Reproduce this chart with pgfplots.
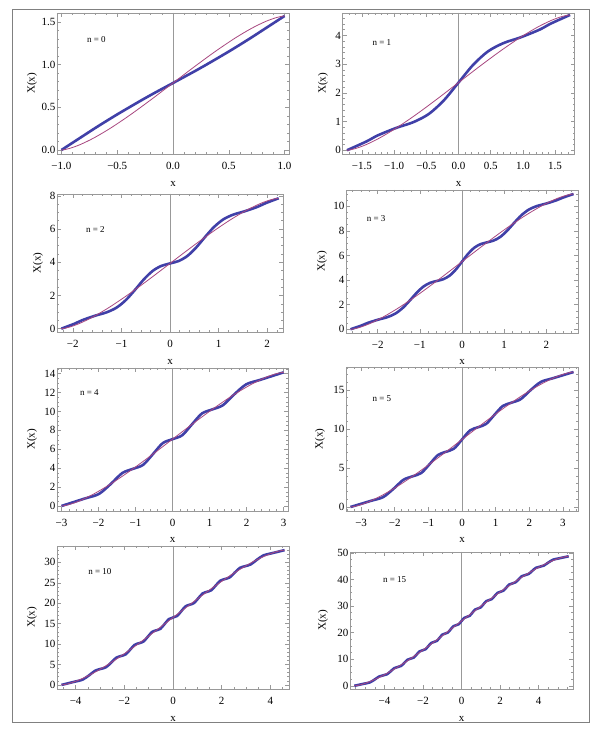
\documentclass[border=0pt]{standalone}
\usepackage{fontspec}
\setmainfont{Liberation Serif}
\usepackage{pgfplots}
\pgfplotsset{compat=1.18}

\definecolor{thickc}{rgb}{0.25,0.25,0.66}
\definecolor{thinc}{rgb}{0.66,0.28,0.50}
\definecolor{framegray}{gray}{0.6}
\definecolor{zerogray}{gray}{0.6}

\pgfplotsset{
  panel/.style={
    scale only axis,
    anchor=south west,
    axis line style={framegray, line width=0.6pt},
    tick align=inside,
    tick pos=both,
    major tick length=4pt,
    minor tick length=2pt,
    tick style={framegray, line width=0.5pt},
    tick label style={font=\fontsize{11}{13}\selectfont, text=black},
    xticklabel style={yshift=-5pt},
    yticklabel style={xshift=2pt},
    /pgf/number format/assume math mode=true,
  },
  thickline/.style={color=thickc, line width=2.6pt, smooth, no markers},
  thinline/.style={color=thinc, line width=0.8pt, smooth, no markers},
}
\tikzset{lab/.style={font=\fontsize{11}{13}\selectfont},
  nlabel/.style={font=\fontsize{9}{11}\selectfont}}
\newcommand{\zeroline}{\draw[zerogray, line width=0.6pt] ({axis cs:0,0}|-{rel axis cs:0,0}) -- ({axis cs:0,0}|-{rel axis cs:0,1});}

\begin{document}
\begin{tikzpicture}
\path[use as bounding box] (0pt,0pt) rectangle (602pt,736pt);
\fill[white] (0pt,0pt) rectangle (602pt,736pt);
\draw[black!50, line width=1pt] (12pt,13pt) rectangle (589pt,726pt);

% n = 0
\begin{axis}[panel, name=p1, at={(57pt,582pt)}, width=232pt, height=141pt,
  xmin=-1.04, xmax=1.04, ymin=-0.047, ymax=1.606,
  xtick={-1,-0.5,0,0.5,1}, xticklabels={−1.0,−0.5,0.0,0.5,1.0},
  ytick={0,0.5,1,1.5}, yticklabels={0.0,0.5,1.0,1.5},
  minor xtick={-1,-0.9,...,1}, minor ytick={0,0.1,...,1.6}]
\zeroline
\addplot[thickline] coordinates {
(-1,0) (-0.9,0.085) (-0.8,0.170) (-0.7,0.255) (-0.6,0.337) (-0.5,0.417) (-0.4,0.494)
(-0.3,0.570) (-0.2,0.644) (-0.1,0.715) (0,0.785) (0.1,0.856) (0.2,0.927) (0.3,1.001)
(0.4,1.077) (0.5,1.154) (0.6,1.234) (0.7,1.316) (0.8,1.401) (0.9,1.486) (1,1.571)};
\addplot[thinline] coordinates {
(-1,0) (-0.98079,0.0025) (-0.92388,0.0196) (-0.83147,0.0636) (-0.70711,0.1427)
(-0.55557,0.2599) (-0.38268,0.4123) (-0.19509,0.5916) (0,0.7854) (0.19509,0.9792)
(0.38268,1.1585) (0.55557,1.3109) (0.70711,1.4281) (0.83147,1.5072) (0.92388,1.5512)
(0.98079,1.5683) (1,1.5708)};
\node[nlabel] at (rel axis cs:0.17,0.81) {n = 0};
\end{axis}

% n = 1
\begin{axis}[panel, name=p2, at={(342.5pt,582pt)}, width=232pt, height=141pt,
  xmin=-1.80133, xmax=1.80133, ymin=-0.13, ymax=4.78,
  xtick={-1.5,-1,-0.5,0,0.5,1,1.5}, xticklabels={−1.5,−1.0,−0.5,0.0,0.5,1.0,1.5},
  ytick={0,1,2,3,4},
  minor xtick={-1.8,-1.7,...,1.8}, minor ytick={0,0.2,...,4.6}]
\zeroline
\addplot[thickline] coordinates {
(-1.7321,0) (-1.4344,0.3006) (-1.2543,0.5171) (-0.9586,0.7854) (-0.6998,0.9795)
(-0.4589,1.2674) (-0.2274,1.7381) (0,2.3562) (0.2274,2.9743) (0.4589,3.4450)
(0.6998,3.7329) (0.9586,3.9270) (1.2543,4.1953) (1.4344,4.4118) (1.7321,4.7124)};
\addplot[thinline] coordinates {
(-1.7321,0) (-1.6988,0.0075) (-1.6002,0.0587) (-1.4401,0.1907) (-1.2247,0.4281)
(-0.9623,0.7797) (-0.6628,1.2368) (-0.3379,1.7747) (0,2.3562) (0.3379,2.9377)
(0.6628,3.4756) (0.9623,3.9327) (1.2247,4.2843) (1.4401,4.5217) (1.6002,4.6537)
(1.6988,4.7049) (1.7321,4.7124)};
\node[nlabel] at (rel axis cs:0.17,0.79) {n = 1};
\end{axis}

% n = 2
\begin{axis}[panel, name=p3, at={(57pt,404pt)}, width=226pt, height=138pt,
  xmin=-2.32551, xmax=2.32551, ymin=-0.2, ymax=8.11,
  xtick={-2,-1,0,1,2}, xticklabels={−2,−1,0,1,2},
  ytick={0,2,4,6,8},
  minor xtick={-2.2,-2,...,2.2}, minor ytick={0,0.5,...,8}]
\zeroline
\addplot[thickline] coordinates {
(-2.2361,0) (-1.9641,0.3006) (-1.8014,0.5171) (-1.5367,0.7854) (-1.3086,0.9795)
(-1.1000,1.2674) (-0.9034,1.7381) (-0.7149,2.3562) (-0.5321,2.9882) (-0.3528,3.4867)
(-0.1758,3.7821) (0,3.9270) (0.1758,4.0719) (0.3528,4.3673) (0.5321,4.8658)
(0.7149,5.4978) (0.9034,6.1159) (1.1000,6.5866) (1.3086,6.8745) (1.5367,7.0686)
(1.8014,7.3369) (1.9641,7.5534) (2.2361,7.8540)};
\addplot[thinline] coordinates {
(-2.2361,0) (-2.1931,0.0125) (-2.0659,0.0979) (-1.8592,0.3178) (-1.5811,0.7135)
(-1.2423,1.2995) (-0.8557,2.0614) (-0.4362,2.9578) (0,3.9270) (0.4362,4.8962)
(0.8557,5.7926) (1.2423,6.5545) (1.5811,7.1405) (1.8592,7.5362) (2.0659,7.7561)
(2.1931,7.8415) (2.2361,7.8540)};
\node[nlabel] at (rel axis cs:0.17,0.74) {n = 2};
\end{axis}

% n = 3
\begin{axis}[panel, name=p4, at={(346pt,403pt)}, width=232pt, height=143pt,
  xmin=-2.75158, xmax=2.75158, ymin=-0.30, ymax=11.32,
  xtick={-2,-1,0,1,2}, xticklabels={−2,−1,0,1,2},
  ytick={0,2,4,6,8,10},
  minor xtick={-2.6,-2.4,...,2.6}, minor ytick={0,0.5,...,11}]
\zeroline
\addplot[thickline] coordinates {
(-2.6458,0) (-2.3895,0.3006) (-2.2366,0.5171) (-1.9894,0.7854) (-1.7778,0.9795)
(-1.5855,1.2674) (-1.4053,1.7381) (-1.2340,2.3562) (-1.0689,2.9882) (-0.9090,3.4867)
(-0.7526,3.7821) (-0.5990,3.9270) (-0.4474,4.0662) (-0.2975,4.3508) (-0.1485,4.8475)
(0,5.4978) (0.1485,6.1481) (0.2975,6.6448) (0.4474,6.9294) (0.5990,7.0686)
(0.7526,7.2135) (0.9090,7.5089) (1.0689,8.0074) (1.2340,8.6394) (1.4053,9.2575)
(1.5855,9.7282) (1.7778,10.0160) (1.9894,10.2102) (2.2366,10.4784) (2.3895,10.6950)
(2.6458,10.9956)};
\addplot[thinline] coordinates {
(-2.6458,0) (-2.5949,0.0175) (-2.4444,0.1370) (-2.1999,0.4449) (-1.8708,0.9989)
(-1.4699,1.8193) (-1.0125,2.8859) (-0.5162,4.1409) (0,5.4978) (0.5162,6.8547)
(1.0125,8.1097) (1.4699,9.1762) (1.8708,9.9967) (2.1999,10.5507) (2.4444,10.8586)
(2.5949,10.9780) (2.6458,10.9956)};
\node[nlabel] at (rel axis cs:0.13,0.80) {n = 3};
\end{axis}

% n = 4
\begin{axis}[panel, name=p5, at={(57pt,225pt)}, width=231pt, height=143pt,
  xmin=-3.12, xmax=3.12, ymin=-0.53, ymax=14.6,
  xtick={-3,-2,-1,0,1,2,3}, xticklabels={−3,−2,−1,0,1,2,3},
  ytick={0,2,4,6,8,10,12,14},
  minor xtick={-3,-2.8,...,3}, minor ytick={0,0.5,...,14.5}]
\zeroline
\addplot[thickline] coordinates {
(-3,0) (-2.3731,0.7854) (-1.9904,1.2674) (-1.6603,2.3562) (-1.3568,3.4867)
(-1.0705,3.9270) (-0.7948,4.3508) (-0.5264,5.4978) (-0.2622,6.6537) (0,7.0686)
(0.2622,7.4835) (0.5264,8.6394) (0.7948,9.7864) (1.0705,10.2102) (1.3568,10.6505)
(1.6603,11.7810) (1.9904,12.8698) (2.3731,13.3518) (3,14.1372)};
\addplot[thinline] coordinates {
(-3,0) (-2.9424,0.0225) (-2.7716,0.1762) (-2.4944,0.5720) (-2.1213,1.2843)
(-1.6667,2.3391) (-1.1480,3.7104) (-0.5853,5.3240) (0,7.0686) (0.5853,8.8132)
(1.1480,10.4267) (1.6667,11.7980) (2.1213,12.8529) (2.4944,13.5652) (2.7716,13.9610)
(2.9424,14.1146) (3,14.1372)};
\node[nlabel] at (rel axis cs:0.14,0.83) {n = 4};
\end{axis}

% n = 5
\begin{axis}[panel, name=p6, at={(346pt,225pt)}, width=232pt, height=144pt,
  xmin=-3.44928, xmax=3.44928, ymin=-0.51, ymax=17.92,
  xtick={-3,-2,-1,0,1,2,3}, xticklabels={−3,−2,−1,0,1,2,3},
  ytick={0,5,10,15},
  minor xtick={-3.4,-3.2,...,3.4}, minor ytick={0,1,...,17}]
\zeroline
\addplot[thickline] coordinates {
(-3.3166,0) (-2.7123,0.7854) (-2.3453,1.2674) (-2.0298,2.3562) (-1.7418,3.4867)
(-1.4709,3.9270) (-1.2116,4.3508) (-0.9611,5.4978) (-0.7161,6.6537) (-0.4754,7.0686)
(-0.2370,7.4779) (0,8.6394) (0.2370,9.8008) (0.4754,10.2102) (0.7161,10.6251)
(0.9611,11.7810) (1.2116,12.9280) (1.4709,13.3518) (1.7418,13.7921) (2.0298,14.9226)
(2.3453,16.0114) (2.7123,16.4934) (3.3166,17.2788)};
\addplot[thinline] coordinates {
(-3.3166,0) (-3.2529,0.0276) (-3.0642,0.2153) (-2.7577,0.6991) (-2.3452,1.5697)
(-1.8426,2.8590) (-1.2692,4.5350) (-0.6470,6.5071) (0,8.6394) (0.6470,10.7717)
(1.2692,12.7438) (1.8426,14.4198) (2.3452,15.7091) (2.7577,16.5797) (3.0642,17.0635)
(3.2529,17.2512) (3.3166,17.2788)};
\node[nlabel] at (rel axis cs:0.155,0.78) {n = 5};
\end{axis}

% n = 10
\begin{axis}[panel, name=p7, at={(57pt,47pt)}, width=232pt, height=143pt,
  xmin=-4.76588, xmax=4.76588, ymin=-1.0, ymax=34.0,
  xtick={-4,-2,0,2,4}, xticklabels={−4,−2,0,2,4},
  ytick={0,5,10,15,20,25,30},
  minor xtick={-4.5,-4,...,4.5}, minor ytick={0,1,...,33}]
\zeroline
\addplot[thickline] coordinates {
(-4.5826,0) (-4.0440,0.7854) (-3.7210,1.2674) (-3.4458,2.3562) (-3.1960,3.4867)
(-2.9652,3.9270) (-2.7461,4.3508) (-2.5362,5.4978) (-2.3338,6.6537) (-2.1374,7.0686)
(-1.9460,7.4779) (-1.7586,8.6394) (-1.5745,9.8046) (-1.3932,10.2102) (-1.2142,10.6130)
(-1.0374,11.7810) (-0.8623,12.9511) (-0.6884,13.3518) (-0.5153,13.7508) (-0.3431,14.9226)
(-0.1715,16.0956) (0,16.4934) (0.1715,16.8911) (0.3431,18.0642) (0.5153,19.2359)
(0.6884,19.6350) (0.8623,20.0357) (1.0374,21.2058) (1.2142,22.3738) (1.3932,22.7765)
(1.5745,23.1821) (1.7586,24.3473) (1.9460,25.5088) (2.1374,25.9181) (2.3338,26.3330)
(2.5362,27.4889) (2.7461,28.6360) (2.9652,29.0597) (3.1960,29.5001) (3.4458,30.6305)
(3.7210,31.7193) (4.0440,32.2013) (4.5826,32.9867)};
\addplot[thinline] coordinates {
(-4.5826,0) (-4.4945,0.0526) (-4.2338,0.4110) (-3.8103,1.3347) (-3.2404,2.9967)
(-2.5460,5.4580) (-1.7537,8.6577) (-0.8940,12.4226) (0,16.4934) (0.8940,20.5641)
(1.7537,24.3290) (2.5460,27.5287) (3.2404,29.9900) (3.8103,31.6521) (4.2338,32.5757)
(4.4945,32.9341) (4.5826,32.9867)};
\node[nlabel] at (rel axis cs:0.185,0.82) {n = 10};
\end{axis}

% n = 15
\begin{axis}[panel, name=p8, at={(350pt,47pt)}, width=223pt, height=137pt,
  xmin=-5.79047, xmax=5.79047, ymin=-1.2, ymax=50.3,
  xtick={-4,-2,0,2,4}, xticklabels={−4,−2,0,2,4},
  ytick={0,10,20,30,40,50},
  minor xtick={-5.5,-5,...,5.5}, minor ytick={0,2.5,...,50}]
\zeroline
\addplot[thickline] coordinates {
(-5.5678,0) (-5.0652,0.7854) (-4.7636,1.2674) (-4.5095,2.3562) (-4.2789,3.4867)
(-4.0655,3.9270) (-3.8647,4.3508) (-3.6727,5.4978) (-3.4889,6.6537) (-3.3112,7.0686)
(-3.1383,7.4779) (-2.9691,8.6394) (-2.8041,9.8046) (-2.6427,10.2102) (-2.4834,10.6130)
(-2.3271,11.7810) (-2.1730,12.9511) (-2.0201,13.3518) (-1.8701,13.7508) (-1.7208,14.9226)
(-1.5733,16.0956) (-1.4267,16.4934) (-1.2812,16.8900) (-1.1367,18.0642) (-0.9929,19.2392)
(-0.8499,19.6350) (-0.7073,20.0299) (-0.5654,21.2058) (-0.4237,22.3823) (-0.2823,22.7765)
(-0.1411,23.1703) (0,24.3473) (0.1411,25.5244) (0.2823,25.9181) (0.4237,26.3124)
(0.5654,27.4889) (0.7073,28.6648) (0.8499,29.0597) (0.9929,29.4555) (1.1367,30.6305)
(1.2812,31.8047) (1.4267,32.2013) (1.5733,32.5991) (1.7208,33.7721) (1.8701,34.9439)
(2.0201,35.3429) (2.1730,35.7436) (2.3271,36.9137) (2.4834,38.0817) (2.6427,38.4845)
(2.8041,38.8901) (2.9691,40.0553) (3.1383,41.2168) (3.3112,41.6261) (3.4889,42.0410)
(3.6727,43.1969) (3.8647,44.3439) (4.0655,44.7677) (4.2789,45.2080) (4.5095,46.3385)
(4.7636,47.4273) (5.0652,47.9093) (5.5678,48.6947)};
\addplot[thinline] coordinates {
(-5.5678,0) (-5.4608,0.0777) (-5.1439,0.6068) (-4.6294,1.9702) (-3.9370,4.4237)
(-3.0933,8.0571) (-2.1307,12.7804) (-1.0862,18.3381) (0,24.3473) (1.0862,30.3565)
(2.1307,35.9143) (3.0933,40.6376) (3.9370,44.2710) (4.6294,46.7245) (5.1439,48.0879)
(5.4608,48.6170) (5.5678,48.6947)};
\node[nlabel] at (rel axis cs:0.2,0.80) {n = 15};
\end{axis}

% axis labels
\node[lab, rotate=90] at ([xshift=-25pt]p1.west) {X(x)};
\node[lab] at ([yshift=-30pt]p1.south) {x};
\node[lab, rotate=90] at ([xshift=-19.5pt]p2.west) {X(x)};
\node[lab] at ([yshift=-30pt]p2.south) {x};
\node[lab, rotate=90] at ([xshift=-19pt]p3.west) {X(x)};
\node[lab] at ([yshift=-30pt]p3.south) {x};
\node[lab, rotate=90] at ([xshift=-24pt]p4.west) {X(x)};
\node[lab] at ([yshift=-29pt]p4.south) {x};
\node[lab, rotate=90] at ([xshift=-25pt]p5.west) {X(x)};
\node[lab] at ([yshift=-29pt]p5.south) {x};
\node[lab, rotate=90] at ([xshift=-26pt]p6.west) {X(x)};
\node[lab] at ([yshift=-29pt]p6.south) {x};
\node[lab, rotate=90] at ([xshift=-25pt]p7.west) {X(x)};
\node[lab] at ([yshift=-30pt]p7.south) {x};
\node[lab, rotate=90] at ([xshift=-27pt]p8.west) {X(x)};
\node[lab] at ([yshift=-30pt]p8.south) {x};
\end{tikzpicture}
\end{document}
